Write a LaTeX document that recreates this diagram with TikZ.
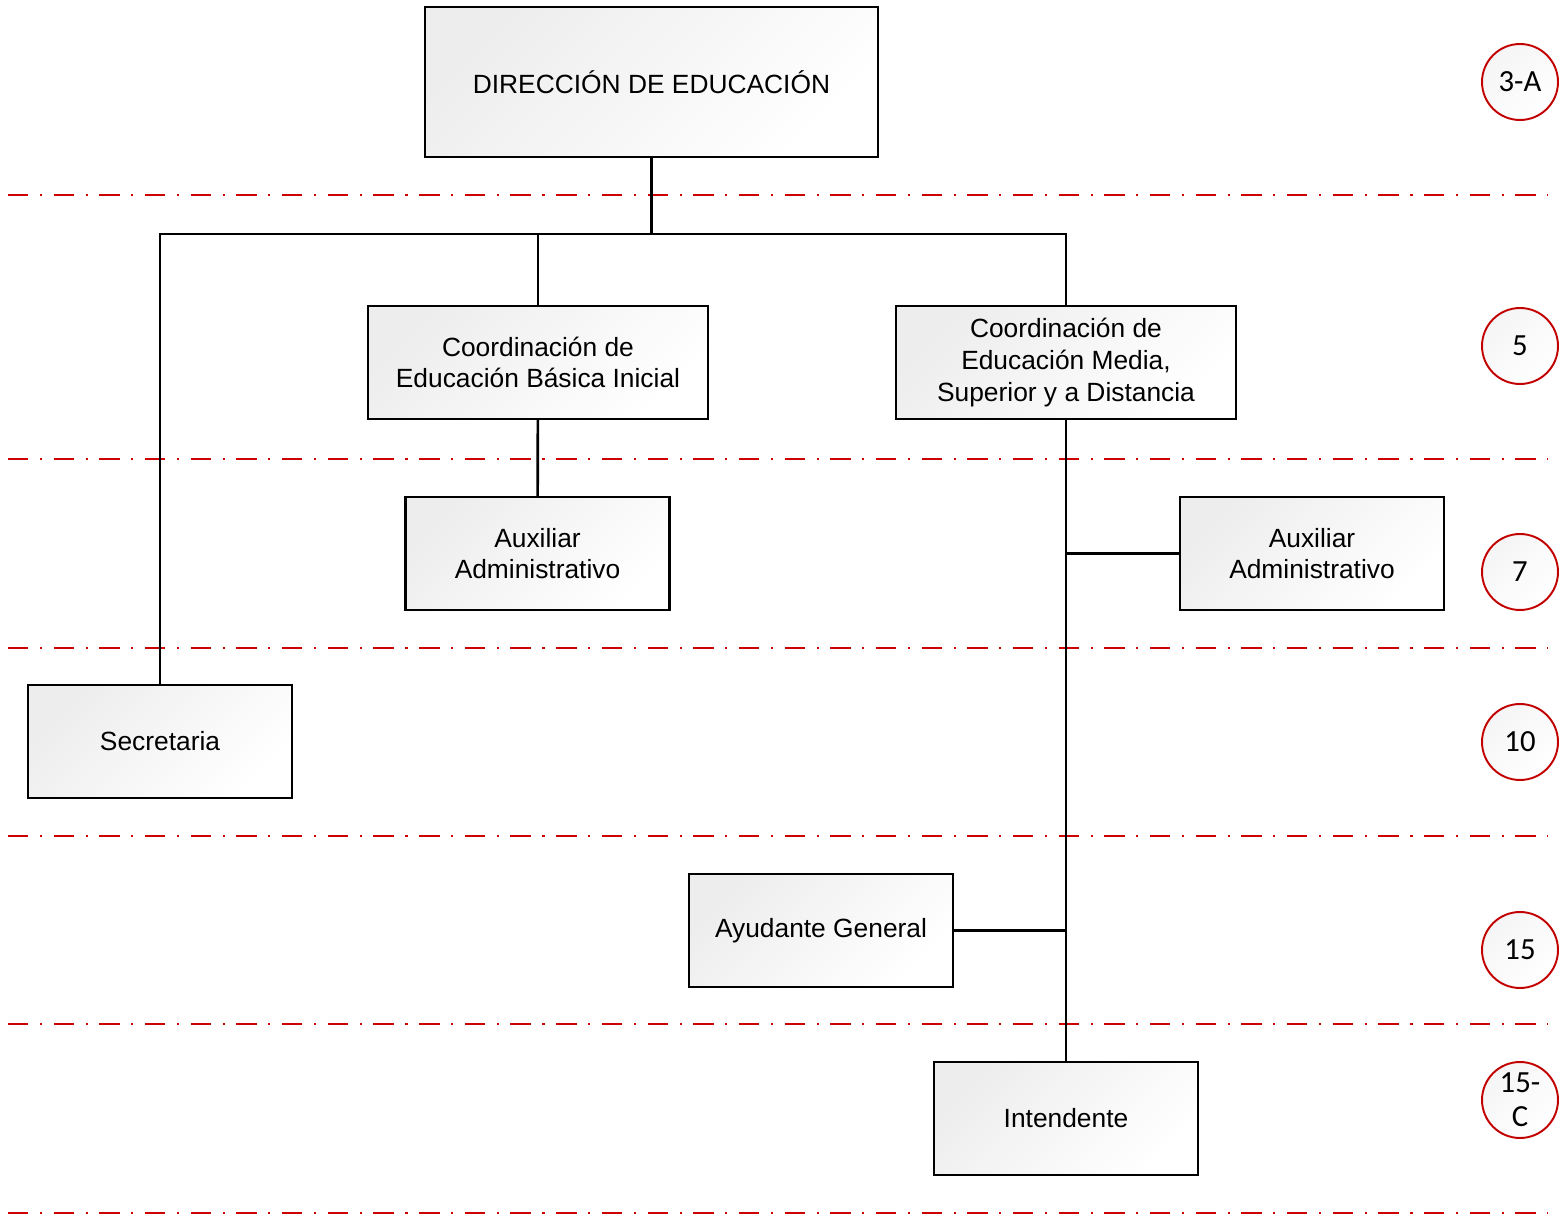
\documentclass[tikz,border=0pt]{standalone}
\usepackage{fontspec}
\setmainfont{Liberation Sans}
\newfontfamily\nivelfont{Carlito}
\definecolor{rojonivel}{RGB}{204,0,0}

\begin{document}
\begin{tikzpicture}[
x=0.02cm, y=-0.02cm,
puesto/.style={
  draw,
  line width=1.2pt,
  top color=black!7, bottom color=white, shading angle=45,
  minimum width=5.28cm, minimum height=2.26cm,
  inner sep=2pt, align=center,
  font=\fontsize{15}{18}\selectfont
  },
nivel/.style={
  circle, draw=rojonivel!95!black,
  line width=1.1pt,
  top color=black!4, bottom color=white, shading angle=45,
  minimum size=1.52cm, inner sep=0pt, align=center,
  font=\nivelfont\fontsize{17.5}{19.5}\selectfont
  },
linea/.style={line width=1.5pt},
corte/.style={rojonivel, line width=1.4pt, dash pattern=on 11.6pt off 6.6pt on 1.2pt off 6.6pt}
]
\useasboundingbox (0,0) rectangle (1560,1216);
% niveles
\foreach \y in {195,459,648,836,1024,1213}
  \draw[corte] (8,\y) -- (1548,\y);
\foreach \y/\t in {82/3-A,346/5,572/7,742/10,950/15,1100/{15-\\C}}
  \node[nivel] (n\y) at (1520,\y) {\t};
% puestos
\node[puesto, minimum width=9.06cm, minimum height=3cm] (direccion) at (651.5,82) {DIRECCIÓN DE EDUCACIÓN};
\node[puesto, minimum width=6.8cm] (basica) at (538,362.5) {Coordinación de\\Educación Básica Inicial};
\node[puesto, minimum width=6.8cm] (media) at (1066,362.5) {Coordinación de\\Educación Media,\\Superior y a Distancia};
\node[puesto] (auxbasica) at (537.5,553.5) {Auxiliar\\Administrativo};
\node[puesto] (auxmedia) at (1312,553.5) {Auxiliar\\Administrativo};
\node[puesto] (secretaria) at (160,741.5) {Secretaria};
\node[puesto] (ayudante) at (821,930.5) {Ayudante General};
\node[puesto] (intendente) at (1066,1118.5) {Intendente};
% lineas
\coordinate (bus) at (651.5,234);
\draw[linea] (direccion.south) -- (bus);
\draw[linea] (secretaria.north) -- (secretaria.north |- bus) -- (media.north |- bus) -- (media.north);
\draw[linea] (basica.north) -- (basica.north |- bus);
\path[linea]
	(basica) edge (auxbasica)
	(media) edge (intendente);
\draw[linea] (auxmedia.west) -- (auxmedia.west -| media.south);
\draw[linea] (ayudante.east) -- (ayudante.east -| media.south);
\end{tikzpicture}
\end{document}
